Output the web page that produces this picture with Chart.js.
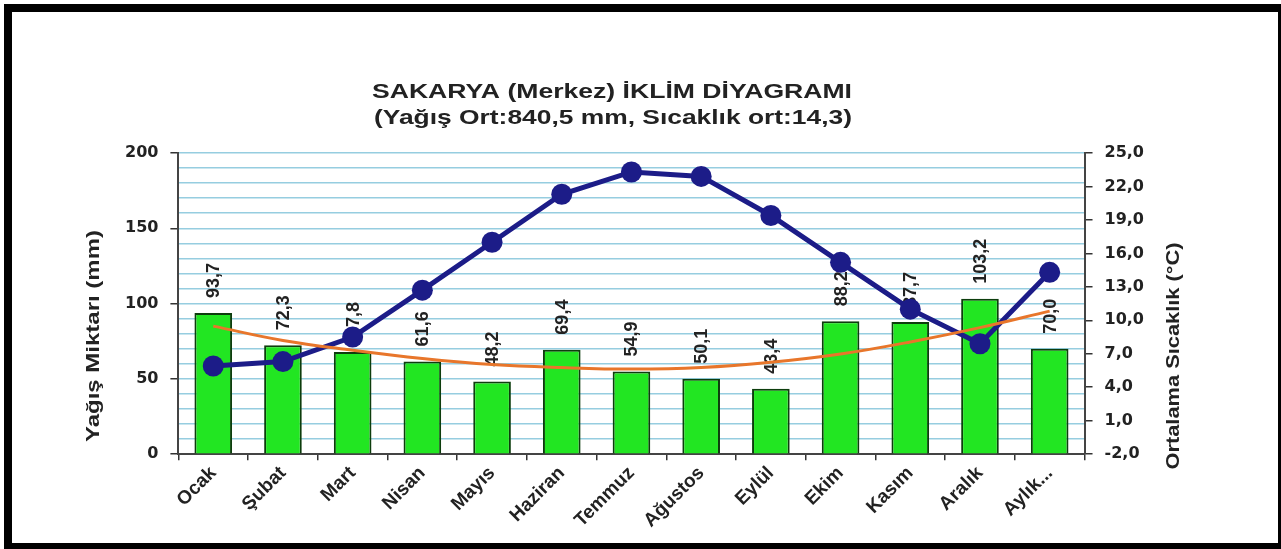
<!DOCTYPE html>
<html><head><meta charset="utf-8">
<script src="https://cdn.jsdelivr.net/npm/chart.js@4.4.1/dist/chart.umd.min.js"></script>
<style>html,body{margin:0;padding:0;background:#fff;} canvas{display:block;}</style>
</head><body>
<canvas id="c" width="1281" height="549"></canvas>
<script>
const months = ['Ocak','Şubat','Mart','Nisan','Mayıs','Haziran','Temmuz','Ağustos','Eylül','Ekim','Kasım','Aralık','Aylık...'];
const precipitation = [93.7,72.3,67.8,61.6,48.2,69.4,54.9,50.1,43.4,88.2,87.7,103.2,70.0];
const temperature = [5.9,6.3,8.5,12.7,17.0,21.3,23.3,22.9,19.4,15.2,11.0,7.9,14.3];
const precipTrend = [85,75.5,69,63.5,59.5,57.5,56.5,57.5,61,66.5,74.5,84,95];
const titleLines = ['SAKARYA (Merkez) İKLİM DİYAGRAMI','(Yağış Ort:840,5 mm, Sıcaklık ort:14,3)'];
const leftAxisTitle = 'Yağış Miktarı (mm)';
const rightAxisTitle = 'Ortalama Sıcaklık (°C)';
const precipRange = [0, 200];
const precipMajorStep = 50;
const precipMinorStep = 10;
const tempRange = [-2, 25];
const tempStep = 3;

const FAMILY = '"Liberation Sans", Arial, Helvetica, sans-serif';
const fmt = v => Number(v).toFixed(1).replace('.', ',');

function drawFitted(ctx, text, cx, cy, font, targetLen, rot, baseline) {
  ctx.save();
  ctx.font = font;
  const w = ctx.measureText(text).width;
  ctx.translate(cx, cy);
  ctx.rotate(rot);
  ctx.scale(targetLen / w, 1);
  ctx.textAlign = 'center';
  ctx.textBaseline = baseline || 'middle';
  ctx.fillStyle = '#222';
  ctx.fillText(text, 0, 0);
  ctx.restore();
}

const framePlugin = {
  id: 'frame',
  beforeDraw(chart) {
    const ctx = chart.ctx;
    ctx.save();
    ctx.fillStyle = '#fff';
    ctx.fillRect(0, 0, chart.width, chart.height);
    ctx.fillStyle = '#000';
    ctx.fillRect(4, 4, chart.width - 4, 8);
    ctx.fillRect(4, 4, 8, chart.height - 4);
    ctx.fillRect(chart.width - 3, 4, 3, chart.height - 4);
    ctx.fillRect(4, chart.height - 6, chart.width - 4, 6);
    ctx.restore();
  }
};

const textPlugin = {
  id: 'texts',
  afterDraw(chart) {
    const ctx = chart.ctx;
    drawFitted(ctx, titleLines[0], 612, 98, 'bold 21px ' + FAMILY, 480, 0, 'alphabetic');
    drawFitted(ctx, titleLines[1], 613, 124, 'bold 21px ' + FAMILY, 478, 0, 'alphabetic');
    drawFitted(ctx, leftAxisTitle, 94, 336, 'bold 19px ' + FAMILY, 212, -Math.PI / 2);
    drawFitted(ctx, rightAxisTitle, 1174, 356, 'bold 19px ' + FAMILY, 227, -Math.PI / 2);
  }
};

const barLabelPlugin = {
  id: 'barLabels',
  afterDatasetDraw(chart, args) {
    if (args.index !== 0) return;
    const ctx = chart.ctx;
    const meta = args.meta;
    ctx.save();
    ctx.font = 'bold 18px ' + FAMILY;
    ctx.fillStyle = '#222';
    ctx.textAlign = 'left';
    ctx.textBaseline = 'middle';
    meta.data.forEach((el, i) => {
      ctx.save();
      ctx.translate(el.x, el.y - 15);
      ctx.rotate(-Math.PI / 2);
      ctx.fillText(fmt(precipitation[i]), 0, 1);
      ctx.restore();
    });
    ctx.restore();
  }
};

new Chart(document.getElementById('c'), {
  data: {
    labels: months,
    datasets: [
      {
        type: 'bar', label: 'Yağış', data: precipitation, yAxisID: 'y', order: 3,
        backgroundColor: '#22e622', borderColor: '#0d3d0d', borderWidth: 2,
        barPercentage: 0.54, categoryPercentage: 1.0
      },
      {
        type: 'line', label: 'Sıcaklık', data: temperature, yAxisID: 'y1', order: 2,
        borderColor: '#1c1c88', backgroundColor: '#1c1c88', borderWidth: 5,
        pointRadius: 10.5, pointBorderWidth: 0, pointBackgroundColor: '#1c1c88', tension: 0
      },
      {
        type: 'line', label: 'Trend', data: precipTrend, yAxisID: 'y', order: 1,
        borderColor: '#e8762b', borderWidth: 3, pointRadius: 0, tension: 0.4, fill: false
      }
    ]
  },
  options: {
    responsive: false,
    animation: false,
    devicePixelRatio: 1,
    layout: { padding: { left: 113, right: 125, top: 153, bottom: 15 } },
    plugins: { legend: { display: false }, tooltip: { enabled: false }, title: { display: false } },
    scales: {
      x: {
        type: 'category', offset: true,
        grid: { offset: true, drawOnChartArea: false, tickLength: 6, tickColor: '#333', lineWidth: 1.5 },
        border: { color: '#444', width: 2 },
        ticks: { minRotation: 45, maxRotation: 45, autoSkip: false, padding: 2, color: '#222',
          font: { family: FAMILY, weight: 'bold', size: 19 } }
      },
      y: {
        position: 'left', min: precipRange[0], max: precipRange[1],
        ticks: { stepSize: precipMinorStep, autoSkip: false, padding: 12, color: '#222',
          callback: v => (v % precipMajorStep === 0 ? v : ''),
          font: { family: 'DejaVu Sans', weight: 'bold', size: 16 } },
        grid: { color: '#96cde0', lineWidth: 1.5, tickLength: 8,
          tickColor: c => (c.tick && c.tick.value % precipMajorStep === 0 ? '#333' : 'rgba(0,0,0,0)') },
        border: { color: '#444', width: 2 }
      },
      y1: {
        position: 'right', min: tempRange[0], max: tempRange[1],
        ticks: { stepSize: tempStep, autoSkip: false, padding: 12, color: '#222',
          callback: v => fmt(v),
          font: { family: 'DejaVu Sans', weight: 'bold', size: 16 } },
        grid: { drawOnChartArea: false, tickLength: 8, tickColor: '#333', lineWidth: 1.5 },
        border: { color: '#444', width: 2 }
      }
    }
  },
  plugins: [framePlugin, barLabelPlugin, textPlugin]
});
</script>
</body></html>
